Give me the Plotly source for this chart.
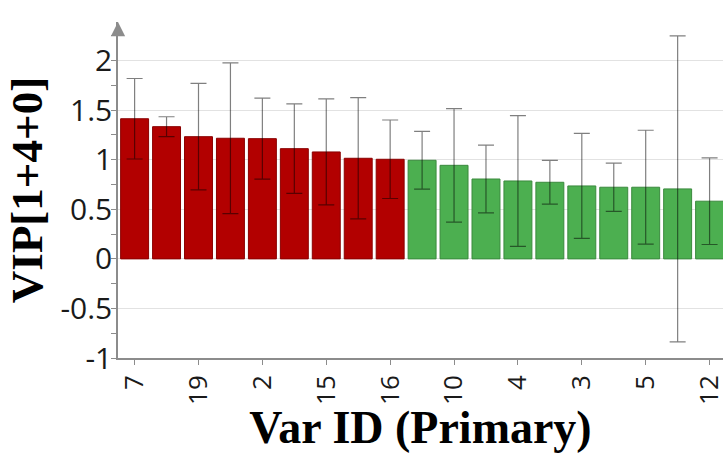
import plotly.graph_objects as go

# ---- data ----
tick_labels = ["7", "19", "2", "15", "16", "10", "4", "3", "5", "12"]   # labels shown on every other bar
vip = [1.414, 1.334, 1.233, 1.217, 1.213, 1.112, 1.079, 1.015, 1.005,
       0.995, 0.944, 0.806, 0.786, 0.773, 0.736, 0.723, 0.723, 0.706, 0.582]
vip_err = [0.406, 0.100, 0.537, 0.760, 0.408, 0.451, 0.535, 0.612, 0.396,
           0.292, 0.573, 0.341, 0.660, 0.220, 0.530, 0.244, 0.575, 1.544, 0.437]
group = ["high"] * 9 + ["low"] * 10

colors = {"high": "#b20000", "low": "#4caf50"}
edge = {"high": "#8a0000", "low": "#3a8a3d"}

positions = list(range(len(vip)))
tick_positions = positions[::2]

fig = go.Figure()
fig.add_trace(go.Bar(
    x=positions,
    y=vip,
    marker=dict(color=[colors[g] for g in group],
                line=dict(color=[edge[g] for g in group], width=1)),
    error_y=dict(type="data", array=vip_err, visible=True,
                 color="rgba(0,0,0,0.5)", thickness=1.2, width=8),
    showlegend=False,
))

axis_gray = "#8c8c8c"
fig.update_layout(
    width=726, height=453,
    margin=dict(l=118, r=0, t=22, b=95),
    paper_bgcolor="white", plot_bgcolor="white",
    bargap=0.125,
    xaxis=dict(
        range=[-0.52, 18.42],
        tickmode="array", tickvals=tick_positions, ticktext=tick_labels,
        tickangle=-90, ticklabeloverflow="allow",
        tickfont=dict(family="Open Sans", size=26, color="#1a1a1a"),
        ticks="outside", ticklen=5, tickcolor=axis_gray, tickwidth=1,
        showline=True, linecolor=axis_gray, linewidth=1.5,
        showgrid=False, zeroline=False,
        title=dict(text="<b>Var ID (Primary)</b>", standoff=0,
                   font=dict(family="Liberation Serif", size=46, color="black")),
    ),
    yaxis=dict(
        range=[-1, 2.39],
        tickmode="array", tickvals=[-1, -0.5, 0, 0.5, 1, 1.5, 2],
        ticktext=["-1", "-0.5", "0", "0.5", "1", "1.5", "2"],
        tickfont=dict(family="Open Sans", size=30, color="#1a1a1a"),
        ticklabelstandoff=-7,
        ticks="outside", ticklen=5, tickcolor=axis_gray, tickwidth=1,
        minor=dict(dtick=0.25, tick0=0, ticks="outside", ticklen=5,
                   tickcolor=axis_gray, showgrid=False),
        showline=True, linecolor=axis_gray, linewidth=1.5,
        showgrid=True, gridcolor="#e2e2e2", gridwidth=1,
        zeroline=False,
        title=dict(text="<b>VIP[1+4+0]</b>", standoff=4,
                   font=dict(family="Liberation Serif", size=45, color="black")),
    ),
)

fig.add_annotation(
    x=0, y=1, xref="paper", yref="paper",
    ax=0, ay=12, axref="pixel", ayref="pixel",
    text="", showarrow=True,
    arrowhead=2, arrowsize=2.2, arrowwidth=1.3, arrowcolor=axis_gray,
)

fig.write_html("out.html")
